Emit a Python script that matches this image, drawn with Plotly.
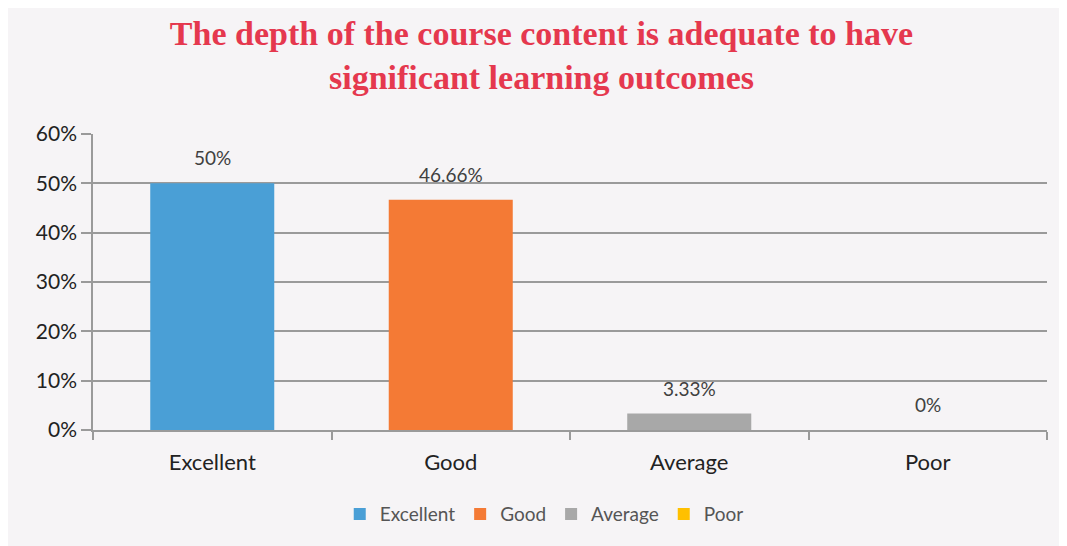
import plotly.graph_objects as go

categories = ["Excellent", "Good", "Average", "Poor"]
values = [50, 46.66, 3.33, 0]
labels = ["50%", "46.66%", "3.33%", "0%"]
colors = ["#4A9FD6", "#F47A35", "#A8A8A8", "#FFC000"]
yticks = [0, 10, 20, 30, 40, 50, 60]
yticklabels = ["0%", "10%", "20%", "30%", "40%", "50%", "60%"]

FONT = "Lato, Open Sans, sans-serif"

fig = go.Figure()
for c, v, col in zip(categories, values, colors):
    fig.add_trace(go.Bar(x=[c], y=[v], name=c, marker=dict(color=col, line=dict(width=0)),
                         width=0.52, showlegend=True))

for c, v, t in zip(categories, values, labels):
    fig.add_annotation(x=c, y=v, text=t, showarrow=False, yanchor="bottom", yshift=12,
                       font=dict(family=FONT, size=19, color="#404040"))

fig.update_layout(
    width=1067, height=546,
    barmode="overlay",
    paper_bgcolor="#F6F4F6",
    plot_bgcolor="#F6F4F6",
    margin=dict(l=85, r=28, t=126, b=124),
    title=dict(
        text="The depth of the course content is adequate to have<br>significant learning outcomes",
        x=0.5, xanchor="center", y=0.932, yanchor="top",
        font=dict(family="Liberation Serif, Times New Roman, serif", size=34, color="#E5384E", weight="bold"),
    ),
    legend=dict(orientation="h", x=0.473, xanchor="center", y=-0.22, yanchor="top",
                font=dict(family=FONT, size=19, color="#555555"),
                traceorder="normal"),
    xaxis=dict(
        type="category", categoryorder="array", categoryarray=categories,
        tickson="boundaries", ticks="outside", ticklen=8, tickcolor="#9A9A9A", tickwidth=1.5,
        showline=True, linecolor="#9A9A9A", linewidth=1.5, showgrid=False,
        ticklabelstandoff=12,
        tickfont=dict(family=FONT, size=22, color="#222222"),
    ),
    yaxis=dict(
        range=[0, 60], tickvals=yticks, ticktext=yticklabels,
        ticks="outside", ticklen=10, tickcolor="#9A9A9A", tickwidth=1.5,
        showline=True, linecolor="#9A9A9A", linewidth=1.5,
        showgrid=True, gridcolor="#9A9A9A", gridwidth=1.5, zeroline=False,
        tickfont=dict(family=FONT, size=21, color="#222222"),
    ),
)

fig.write_html("out.html")
